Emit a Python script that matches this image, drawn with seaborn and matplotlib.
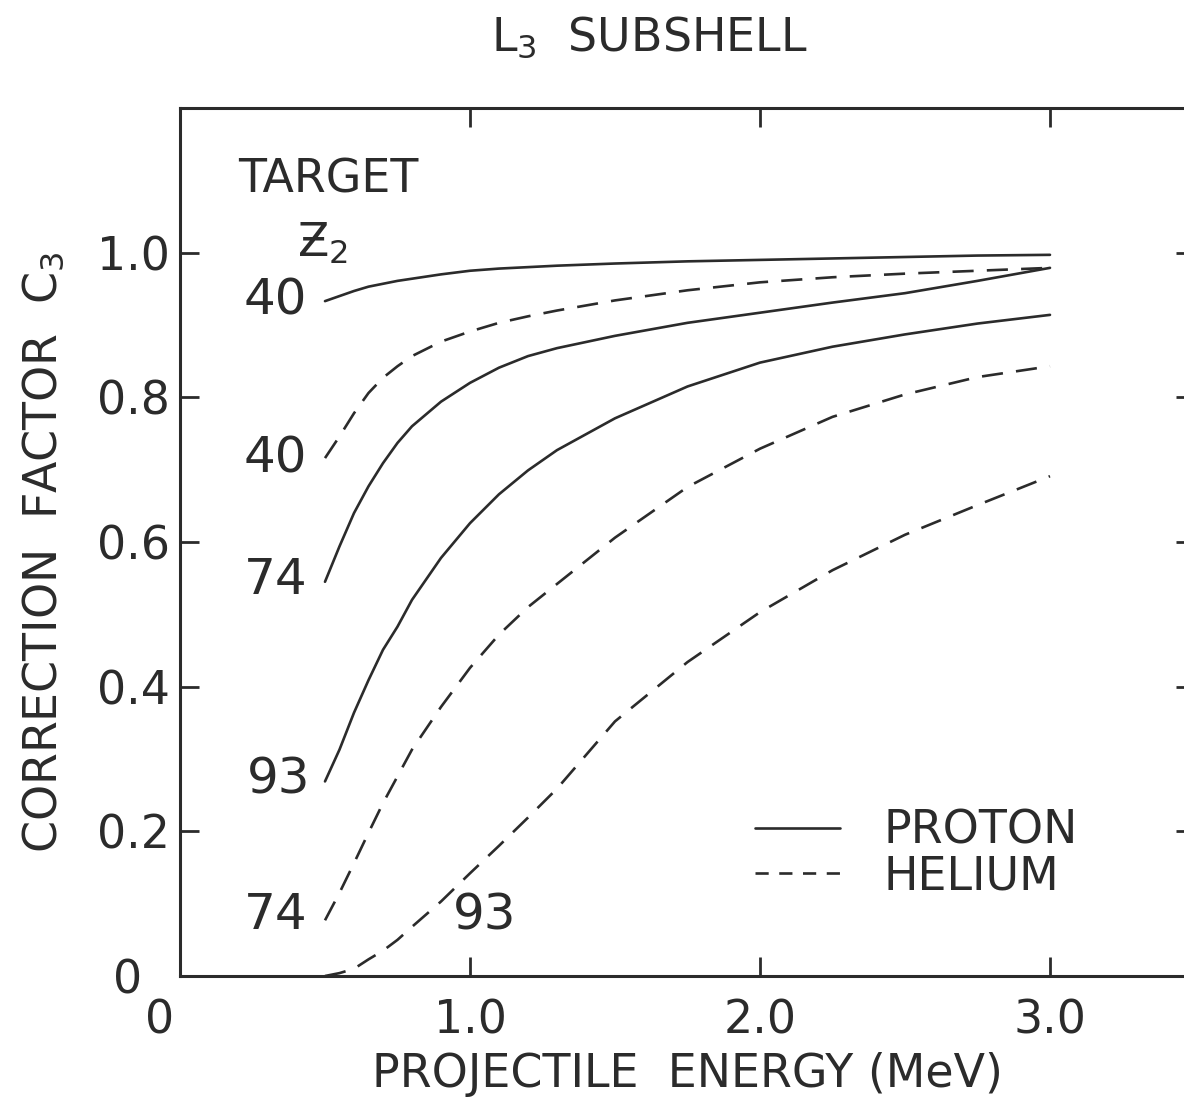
import matplotlib
matplotlib.use("Agg")
import matplotlib.pyplot as plt
import matplotlib.transforms as mtransforms
import seaborn as sns
import pandas as pd
from matplotlib.lines import Line2D

# ---- data ----
energy = [0.5, 0.55, 0.6, 0.65, 0.7, 0.75, 0.8, 0.9, 1.0, 1.1, 1.2, 1.3,
          1.5, 1.75, 2.0, 2.25, 2.5, 2.75, 3.0]
proton_40 = [0.933, 0.940, 0.947, 0.953, 0.957, 0.961, 0.964, 0.970, 0.975, 0.978,
             0.980, 0.982, 0.985, 0.988, 0.990, 0.992, 0.994, 0.996, 0.997]
helium_40 = [0.716, 0.746, 0.778, 0.806, 0.827, 0.843, 0.857, 0.877, 0.891, 0.903,
             0.912, 0.920, 0.934, 0.948, 0.959, 0.966, 0.971, 0.975, 0.979]
proton_74 = [0.545, 0.594, 0.640, 0.677, 0.709, 0.737, 0.760, 0.794, 0.820, 0.841,
             0.857, 0.868, 0.885, 0.903, 0.917, 0.931, 0.944, 0.961, 0.979]
proton_93 = [0.269, 0.313, 0.364, 0.409, 0.451, 0.483, 0.520, 0.578, 0.626, 0.666,
             0.699, 0.727, 0.771, 0.815, 0.848, 0.870, 0.887, 0.902, 0.914]
helium_74 = [0.077, 0.115, 0.156, 0.198, 0.239, 0.276, 0.313, 0.372, 0.426, 0.472,
             0.510, 0.542, 0.606, 0.676, 0.729, 0.773, 0.804, 0.828, 0.843]
helium_93 = [0.000, 0.004, 0.010, 0.023, 0.035, 0.050, 0.068, 0.103, 0.142, 0.180,
             0.219, 0.259, 0.352, 0.434, 0.503, 0.561, 0.610, 0.651, 0.691]

series = [
    ("PROTON", "40", proton_40),
    ("HELIUM", "40", helium_40),
    ("PROTON", "74", proton_74),
    ("PROTON", "93", proton_93),
    ("HELIUM", "74", helium_74),
    ("HELIUM", "93", helium_93),
]

# curve labels: (text, x, y)
curve_labels = [("40", 0.33, 0.934), ("40", 0.33, 0.716), ("74", 0.33, 0.548),
                ("93", 0.34, 0.271), ("74", 0.33, 0.084), ("93", 1.05, 0.084)]

xticks = [0, 1.0, 2.0, 3.0]
xticklabels = ["0", "1.0", "2.0", "3.0"]
yticks = [0, 0.2, 0.4, 0.6, 0.8, 1.0]
yticklabels = ["0", "0.2", "0.4", "0.6", "0.8", "1.0"]

rows = []
for particle, z, vals in series:
    for e, v in zip(energy, vals):
        rows.append({"energy": e, "C3": v, "particle": particle, "Z2": z + particle})
df = pd.DataFrame(rows)

sns.set_style("ticks")
ink = "#2b2b2b"
plt.rcParams["font.family"] = ["DejaVu Sans"]
plt.rcParams["text.color"] = ink
plt.rcParams["axes.labelcolor"] = ink
plt.rcParams["xtick.color"] = ink
plt.rcParams["ytick.color"] = ink

W, H = 1184, 1100
fig = plt.figure(figsize=(W / 100, H / 100), dpi=100)
ax = fig.add_axes([180 / W, 124 / H, 1015 / W, 868 / H])

sns.lineplot(data=df, x="energy", y="C3", style="particle", units="Z2",
             estimator=None, color=ink, linewidth=1.9,
             dashes={"PROTON": "", "HELIUM": (8, 5)}, legend=False, ax=ax)

ax.set_xlim(0, 3.5)
ax.set_ylim(0, 1.2)
ax.set_xticks(xticks)
ax.set_xticklabels(xticklabels)
ax.set_yticks(yticks)
ax.set_yticklabels(yticklabels)
ax.tick_params(direction="in", length=14, width=2, labelsize=33, top=True, right=True)
ax.tick_params(axis="x", pad=16)
ax.tick_params(axis="y", pad=7)
for s in ax.spines.values():
    s.set_linewidth(2.2)
    s.set_color(ink)

# origin "0" labels sit a little to the left, as in the original
fig.canvas.draw()
ax.get_xticklabels()[0].set_transform(
    ax.get_xticklabels()[0].get_transform()
    + mtransforms.ScaledTranslation(-20 / 100, 0, fig.dpi_scale_trans))
ax.get_yticklabels()[0].set_transform(
    ax.get_yticklabels()[0].get_transform()
    + mtransforms.ScaledTranslation(-28 / 100, 0, fig.dpi_scale_trans))

ax.set_xlabel("PROJECTILE  ENERGY (MeV)", fontsize=33, labelpad=6)
ax.set_ylabel("CORRECTION  FACTOR  C$_3$", fontsize=33)
ax.yaxis.set_label_coords(-0.112, 0.488)

fig.text(649 / W, 1 - 38 / H, "L$_3$  SUBSHELL", fontsize=33, ha="center", va="center")

for t, x, y in curve_labels:
    ax.text(x, y, t, fontsize=36, ha="center", va="center")

ax.text(0.51, 1.101, "TARGET", fontsize=33, ha="center", va="center")
ax.text(0.49, 1.012, "Ƶ$_2$", fontsize=33, ha="center", va="center")

handles = [Line2D([], [], color=ink, lw=1.9),
           Line2D([], [], color=ink, lw=1.9, dashes=(5, 4))]
ax.legend(handles, ["PROTON", "HELIUM"], frameon=False, fontsize=33,
          loc="upper left", bbox_to_anchor=(755 / W, 1 - 809 / H),
          bbox_transform=fig.transFigure, borderaxespad=0, borderpad=0,
          handlelength=1.85, handletextpad=0.95, labelspacing=0.0)

fig.savefig("out.png", dpi=100, facecolor="white")
